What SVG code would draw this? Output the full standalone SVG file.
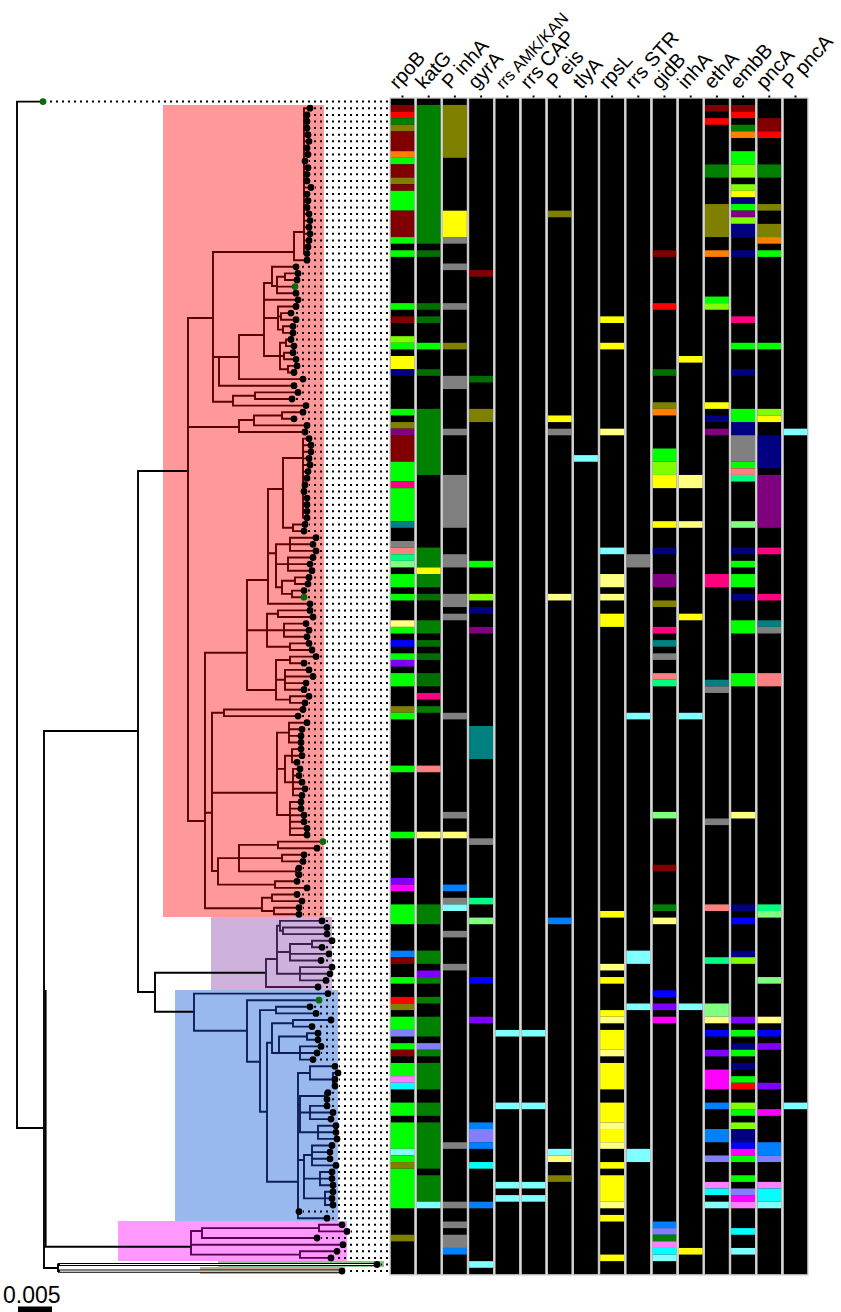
<svg xmlns="http://www.w3.org/2000/svg" width="841" height="1312" viewBox="0 0 841 1312">
<style>
.DR{fill:#800000}.R{fill:#ff0000}.G{fill:#008000}.DG{fill:#006e00}.OL{fill:#808000}.OR{fill:#ff8000}.L{fill:#00ff00}.CH{fill:#80ff00}.Y{fill:#ffff00}.LY{fill:#ffff80}.NV{fill:#000080}.B{fill:#0000ff}.DB{fill:#0080ff}.LSB{fill:#8080ff}.PU{fill:#800080}.VI{fill:#8000ff}.MG{fill:#ff00ff}.LM{fill:#ff80ff}.DP{fill:#ff0080}.TE{fill:#008080}.GR{fill:#808080}.SA{fill:#ff8080}.SG{fill:#00ff80}.LG{fill:#80ff80}.CY{fill:#00ffff}.LC{fill:#80ffff}
.br{fill:none;stroke-width:1.9;stroke-linecap:square}
.lbl{font-family:"Liberation Sans",Arial,sans-serif;font-size:20px;fill:#000}
</style>
<rect width="841" height="1312" fill="#fff"/>
<g id="clades">
<rect x="163" y="105" width="161" height="812" fill="#ff9999"/>
<rect x="211" y="917" width="121" height="73" fill="#cfb2db"/>
<rect x="175" y="990" width="163" height="231" fill="#99b8ee"/>
<rect x="118" y="1221" width="229" height="40" fill="#ff99ff"/>
<rect x="218" y="1261" width="166" height="6" fill="#8cc88c"/>
<rect x="200" y="1267" width="145" height="7" fill="#c8a890"/>
</g>
<g id="leader-dots">
<path fill="none" stroke="#000" stroke-width="2" stroke-dasharray="2 4" d="M388 101.6H47M388 108.2H314M388 114.9H311M388 121.5H311M388 128.1H311M388 134.7H312M388 141.3H313M388 147.9H311M388 154.5H312M388 161.1H309M388 167.7H312M388 174.3H311M388 180.9H311M388 187.5H315M388 194.1H311M388 200.7H312M388 207.4H311M388 214H313M388 220.6H314M388 227.2H313M388 233.8H314M388 240.4H313M388 247H312M388 253.6H311M388 260.2H311M388 266.8H300M388 273.4H302M388 280H301M388 286.6H299M388 293.2H300M388 299.8H302M388 306.5H300M388 313.1H295M388 319.7H300M388 326.3H297M388 332.9H297M388 339.5H295M388 346.1H298M388 352.7H297M388 359.3H300M388 365.9H301M388 372.5H298M388 379.1H307M388 385.7H298M388 392.4H302M388 399H296M388 405.6H310M388 412.2H307M388 418.8H298M388 425.4H311M388 432H309M388 438.6H313M388 445.2H315M388 451.8H315M388 458.4H313M388 465H314M388 471.6H312M388 478.2H311M388 484.9H309M388 491.5H308M388 498.1H311M388 504.7H311M388 511.3H311M388 517.9H311M388 524.5H309M388 531.1H308M388 537.7H320M388 544.3H317M388 550.9H320M388 557.5H317M388 564.1H314M388 570.7H316M388 577.4H313M388 584H312M388 590.6H308M388 597.2H308M388 603.8H314M388 610.4H314M388 617H317M388 623.6H310M388 630.2H313M388 636.8H311M388 643.4H313M388 650H316M388 656.6H320M388 663.2H308M388 669.9H313M388 676.5H317M388 683.1H310M388 689.7H308M388 696.3H313M388 702.9H309M388 709.5H307M388 716.1H302M388 722.7H311M388 729.3H306M388 735.9H305M388 742.5H305M388 749.1H305M388 755.7H306M388 762.3H301M388 768.9H304M388 775.6H303M388 782.2H306M388 788.8H309M388 795.4H306M388 802H305M388 808.6H305M388 815.2H308M388 821.8H308M388 828.4H311M388 835H311M388 841.6H327M388 848.2H321M388 854.8H308M388 861.4H307M388 868.1H303M388 874.7H303M388 881.3H301M388 887.9H311M388 894.5H301M388 901.1H306M388 907.7H303M388 914.3H303M388 920.9H326M388 927.5H331M388 934.1H331M388 940.7H336M388 947.3H326M388 953.9H333M388 960.5H325M388 967.1H336M388 973.8H334M388 980.4H330M388 987H322M388 993.6H332M388 1000.2H323M388 1006.8H314M388 1013.4H320M388 1020H335M388 1026.6H316M388 1033.2H322M388 1039.8H322M388 1046.4H325M388 1053H321M388 1059.6H317M388 1066.3H339M388 1072.9H342M388 1079.5H339M388 1086.1H339M388 1092.7H332M388 1099.3H331M388 1105.9H331M388 1112.5H337M388 1119.1H335M388 1125.7H340M388 1132.3H340M388 1138.9H341M388 1145.5H336M388 1152.1H334M388 1158.8H334M388 1165.4H340M388 1172H336M388 1178.6H336M388 1185.2H337M388 1191.8H337M388 1198.4H336M388 1205H337M388 1211.6H303M388 1218.2H331M388 1224.8H346M388 1231.4H351M388 1238H321M388 1244.7H347M388 1251.3H341M388 1257.9H335M388 1264.5H381M388 1271.1H346"/>
</g>
<g id="connectors">
<path class="br" stroke="#000" d="M43 101.6H17V1128H44M44 731V1268M44 731H138M138 471V992M138 471H188M138 992H155M155 972.7V1011.7M155 972.7H266M155 1011.7H194M44 1246.7H191M44 1268H58M58 1264.5V1271.1"/>
<path fill="none" stroke="#000" stroke-width="1.6" d="M45.8 990V1246.7"/>
<path fill="none" stroke="#000" stroke-width="3.2" d="M58 1264.5H377M58 1271.1H342"/>
<path fill="none" stroke="#fff" stroke-width="1.1" d="M60 1264.5H375M60 1271.1H340"/>
<path class="br" stroke="#5a0000" d="M188 318V821M188 318H213M188 427H239M188 821H205M213 252V401.7M213 252H294M213 357H219M213 401.7H233M294 232V260.2M294 232H304M294 260.2H307M304 108.2V253.6M304 108.2H310M304 114.9H307M304 121.5H307M304 128.1H307M304 134.7H308M304 141.3H309M304 147.9H307M304 154.5H308M304 161.1H305M304 167.7H308M304 174.3H307M304 180.9H307M304 187.5H311M304 194.1H307M304 200.7H308M304 207.4H307M304 214H309M304 220.6H310M304 227.2H309M304 233.8H310M304 240.4H309M304 247H308M304 253.6H307M219 357V385.7M219 357H239M219 385.7H294M239 335V379.1M239 335H264M239 379.1H303M264 283V356M264 283H272M264 299.8H298M264 318H278M264 356H280M272 266.8V286M272 266.8H296M272 286H277M277 276.7V293.2M277 276.7H285M277 286.6H295M277 293.2H296M285 273.4V280M285 273.4H298M285 280H297M278 306.5V329.6M278 306.5H296M278 316.4H281M278 329.6H283M281 313.1V319.7M281 313.1H291M281 319.7H296M283 326.3V332.9M283 326.3H293M283 332.9H293M280 342.8V369.2M280 342.8H286M280 356H284M280 369.2H288M286 339.5V346.1M286 339.5H291M286 346.1H294M284 352.7V359.3M284 352.7H293M284 359.3H296M288 365.9V372.5M288 365.9H297M288 372.5H294M233 395.7V405.6M233 395.7H255M233 405.6H306M255 392.4V399M255 392.4H298M255 399H292M239 420V432M239 420H254M239 432H305M254 415.5V425.4M254 415.5H282M254 425.4H307M282 412.2V418.8M282 412.2H303M282 418.8H294M205 652.7V908.3M205 652.7H247M205 812.7H212M205 908.3H262M247 580V690M247 580H268M247 630.2H267M247 690H276M268 489V603.8M268 489H283M268 553.3H276M268 603.8H310M283 458V527.8M283 458H303M283 527.8H293M303 438.6V517.9M303 438.6H309M303 445.2H311M303 451.8H311M303 458.4H309M303 465H310M303 471.6H308M303 478.2H307M303 484.9H305M303 491.5H304M303 498.1H307M303 504.7H307M303 511.3H307M303 517.9H307M293 524.5V531.1M293 524.5H305M293 531.1H304M276 544.3V587.3M276 544.3H290M276 564.1H288M276 587.3H282M290 537.7V550.9M290 537.7H316M290 544.3H313M290 550.9H316M288 557.5V570.7M288 557.5H313M288 564.1H310M288 570.7H312M282 580.7V593.9M282 580.7H295M282 593.9H292M295 577.4V584M295 577.4H309M295 584H308M292 590.6V597.2M292 590.6H304M292 597.2H304M267 613.7V646.7M267 613.7H278M267 630.2H284M267 646.7H290M278 610.4V617M278 610.4H310M278 617H313M284 623.6V636.8M284 623.6H306M284 630.2H309M284 636.8H307M290 643.4V650M290 643.4H309M290 650H312M276 660V699.6M276 660H290M276 679.8H285M276 699.6H290M290 656.6V663.2M290 656.6H316M290 663.2H304M285 669.9V689.7M285 669.9H309M285 676.5H313M285 683.1H306M285 689.7H304M290 696.3V702.9M290 696.3H309M290 702.9H305M212 712.8V871M212 712.8H224M212 792.7H277M212 871H218M224 709.5V716.1M224 709.5H303M224 716.1H298M277 732.6V815M277 732.6H289M277 768.9H285M277 815H290M289 722.7V742.5M289 722.7H307M289 729.3H302M289 735.9H301M289 742.5H301M285 755.7V782.2M285 755.7H292M285 782.2H293M292 749.1V762.3M292 749.1H301M292 755.7H302M292 762.3H297M293 768.9V795.4M293 768.9H300M293 775.6H299M293 782.2H302M293 788.8H305M293 795.4H302M290 802V835M290 802H301M290 808.6H301M290 815.2H304M290 821.8H304M290 828.4H307M290 835H307M218 858.1V884.6M218 858.1H239M218 884.6H275M239 844.9V871.4M239 844.9H278M239 858.1H282M239 871.4H296M278 841.6V848.2M278 841.6H323M278 848.2H317M282 854.8V861.4M282 854.8H304M282 861.4H303M296 868.1V874.7M296 868.1H299M296 874.7H299M275 881.3V887.9M275 881.3H297M275 887.9H307M262 897.8V911M262 897.8H272M262 911H274M272 894.5V901.1M272 894.5H297M272 901.1H302M274 907.7V914.3M274 907.7H299M274 914.3H299"/>
<path class="br" stroke="#3d1d4d" d="M266 959V987M266 959H277M266 987H318M277 925.7V973.8M277 925.7H280M277 952H290M277 973.8H300M280 920.9V930.8M280 920.9H322M280 930.8H283M283 927.5V934.1M283 927.5H327M283 934.1H327M290 944V960.5M290 944H312M290 953.9H329M290 960.5H321M312 940.7V947.3M312 940.7H332M312 947.3H322M300 967.1V980.4M300 967.1H332M300 973.8H330M300 980.4H326"/>
<path class="br" stroke="#0d1f5a" d="M194 993.6V1030.7M194 993.6H328M194 1030.7H247M247 1000.2V1061.7M247 1000.2H319M247 1061.7H260M260 1010.1V1111.7M260 1010.1H276M260 1111.7H267M276 1006.8V1013.4M276 1006.8H310M276 1013.4H316M267 1042.7V1181.7M267 1042.7H272M267 1181.7H298M272 1023.3V1053M272 1023.3H293M272 1053H279M293 1020V1026.6M293 1020H331M293 1026.6H312M279 1036.5V1053M279 1036.5H307M279 1053H300M307 1033.2V1039.8M307 1033.2H318M307 1039.8H318M300 1046.4V1059.6M300 1046.4H321M300 1053H317M300 1059.6H313M298 1073V1218.2M298 1073H310M298 1105H300M298 1160H304M298 1218.2H327M310 1066.3V1079.5M310 1066.3H335M310 1079.5H333M333 1072.9V1086.1M333 1072.9H338M333 1079.5H335M333 1086.1H335M300 1096V1132.3M300 1096H325M300 1112.5H310M300 1132.3H318M325 1092.7V1099.3M325 1092.7H328M325 1099.3H327M310 1105.9V1119.1M310 1105.9H327M310 1112.5H333M310 1119.1H331M318 1125.7V1138.9M318 1125.7H336M318 1132.3H336M318 1138.9H337M304 1155V1198.4M304 1155H312M304 1178.6H320M304 1198.4H325M312 1145.5V1165.4M312 1145.5H332M312 1152.1H330M312 1158.8H330M312 1165.4H336M320 1172V1185.2M320 1172H332M320 1178.6H332M320 1185.2H333M325 1191.8V1205M325 1191.8H333M325 1198.4H332M325 1205H333"/>
<path class="br" stroke="#560050" d="M191 1231V1254.6M191 1231H202M191 1244.7H343M191 1254.6H300M202 1228.1V1238M202 1228.1H319M202 1238H317M319 1224.8V1231.4M319 1224.8H342M319 1231.4H347M300 1251.3V1257.9M300 1251.3H337M300 1257.9H331"/>
</g>
<g id="leaves">
<path fill="none" stroke="#000" stroke-width="6.8" stroke-linecap="round" d="M310 108.2h0M307 114.9h0M307 121.5h0M307 128.1h0M308 134.7h0M309 141.3h0M307 147.9h0M308 154.5h0M305 161.1h0M308 167.7h0M307 174.3h0M307 180.9h0M311 187.5h0M307 194.1h0M308 200.7h0M307 207.4h0M309 214h0M310 220.6h0M309 227.2h0M310 233.8h0M309 240.4h0M308 247h0M307 253.6h0M307 260.2h0M296 266.8h0M298 273.4h0M297 280h0M296 293.2h0M298 299.8h0M296 306.5h0M291 313.1h0M296 319.7h0M293 326.3h0M293 332.9h0M291 339.5h0M294 346.1h0M293 352.7h0M296 359.3h0M297 365.9h0M294 372.5h0M303 379.1h0M294 385.7h0M298 392.4h0M292 399h0M306 405.6h0M303 412.2h0M294 418.8h0M307 425.4h0M305 432h0M309 438.6h0M311 445.2h0M311 451.8h0M309 458.4h0M310 465h0M308 471.6h0M307 478.2h0M305 484.9h0M304 491.5h0M307 498.1h0M307 504.7h0M307 511.3h0M307 517.9h0M305 524.5h0M304 531.1h0M316 537.7h0M313 544.3h0M316 550.9h0M313 557.5h0M310 564.1h0M312 570.7h0M309 577.4h0M308 584h0M304 590.6h0M310 603.8h0M310 610.4h0M313 617h0M306 623.6h0M309 630.2h0M307 636.8h0M309 643.4h0M312 650h0M316 656.6h0M304 663.2h0M309 669.9h0M313 676.5h0M306 683.1h0M304 689.7h0M309 696.3h0M305 702.9h0M303 709.5h0M298 716.1h0M307 722.7h0M302 729.3h0M301 735.9h0M301 742.5h0M301 749.1h0M302 755.7h0M297 762.3h0M300 768.9h0M299 775.6h0M302 782.2h0M305 788.8h0M302 795.4h0M301 802h0M301 808.6h0M304 815.2h0M304 821.8h0M307 828.4h0M307 835h0M317 848.2h0M304 854.8h0M303 861.4h0M299 868.1h0M299 874.7h0M297 881.3h0M307 887.9h0M297 894.5h0M302 901.1h0M299 907.7h0M299 914.3h0M322 920.9h0M327 927.5h0M327 934.1h0M332 940.7h0M322 947.3h0M329 953.9h0M321 960.5h0M332 967.1h0M330 973.8h0M326 980.4h0M318 987h0M328 993.6h0M310 1006.8h0M316 1013.4h0M331 1020h0M312 1026.6h0M318 1033.2h0M318 1039.8h0M321 1046.4h0M317 1053h0M313 1059.6h0M335 1066.3h0M338 1072.9h0M335 1079.5h0M335 1086.1h0M328 1092.7h0M327 1099.3h0M327 1105.9h0M333 1112.5h0M331 1119.1h0M336 1125.7h0M336 1132.3h0M337 1138.9h0M332 1145.5h0M330 1152.1h0M330 1158.8h0M336 1165.4h0M332 1172h0M332 1178.6h0M333 1185.2h0M333 1191.8h0M332 1198.4h0M333 1205h0M299 1211.6h0M327 1218.2h0M342 1224.8h0M347 1231.4h0M317 1238h0M343 1244.7h0M337 1251.3h0M331 1257.9h0M377 1264.5h0M342 1271.1h0"/>
<path fill="none" stroke="#0b6b0b" stroke-width="6.8" stroke-linecap="round" d="M43 101.6h0M295 286.6h0M304 597.2h0M323 841.6h0M319 1000.2h0"/>
</g>
<g id="heatmap">
<g id="col-rpoB" transform="translate(390.5 98.33) scale(1 6.607)"><rect width="24" height="178"/><rect class="DR" y="1" height="1" width="24"/><rect class="R" y="2" height="1" width="24"/><rect class="G" y="3" height="1" width="24"/><rect class="OL" y="4" height="1" width="24"/><rect class="DR" y="5" height="3" width="24"/><rect class="OR" y="8" height="1" width="24"/><rect class="L" y="9" height="1" width="24"/><rect class="DR" y="10" height="2" width="24"/><rect class="OL" y="12" height="1" width="24"/><rect class="DR" y="13" height="1" width="24"/><rect class="L" y="14" height="3" width="24"/><rect class="DR" y="17" height="4" width="24"/><rect class="L" y="21" height="1" width="24"/><rect class="L" y="23" height="1" width="24"/><rect class="L" y="31" height="1" width="24"/><rect class="DR" y="33" height="1" width="24"/><rect class="CH" y="36" height="1" width="24"/><rect class="L" y="37" height="1" width="24"/><rect class="Y" y="39" height="2" width="24"/><rect class="NV" y="41" height="1" width="24"/><rect class="L" y="47" height="1" width="24"/><rect class="OL" y="49" height="1" width="24"/><rect class="PU" y="50" height="1" width="24"/><rect class="DR" y="51" height="4" width="24"/><rect class="L" y="55" height="3" width="24"/><rect class="DP" y="58" height="1" width="24"/><rect class="L" y="59" height="5" width="24"/><rect class="TE" y="64" height="1" width="24"/><rect class="GR" y="67" height="1" width="24"/><rect class="SA" y="68" height="1" width="24"/><rect class="SG" y="69" height="1" width="24"/><rect class="LG" y="70" height="1" width="24"/><rect class="L" y="72" height="2" width="24"/><rect class="L" y="75" height="1" width="24"/><rect class="LY" y="79" height="1" width="24"/><rect class="L" y="80" height="1" width="24"/><rect class="B" y="82" height="1" width="24"/><rect class="L" y="84" height="1" width="24"/><rect class="VI" y="85" height="1" width="24"/><rect class="L" y="87" height="2" width="24"/><rect class="OL" y="92" height="1" width="24"/><rect class="L" y="93" height="1" width="24"/><rect class="L" y="101" height="1" width="24"/><rect class="L" y="111" height="1" width="24"/><rect class="VI" y="118" height="1" width="24"/><rect class="MG" y="119" height="1" width="24"/><rect class="L" y="122" height="3" width="24"/><rect class="DB" y="129" height="1" width="24"/><rect class="DR" y="130" height="1" width="24"/><rect class="L" y="133" height="1" width="24"/><rect class="R" y="136" height="1" width="24"/><rect class="OL" y="137" height="1" width="24"/><rect class="L" y="139" height="2" width="24"/><rect class="LSB" y="141" height="1" width="24"/><rect class="L" y="143" height="1" width="24"/><rect class="DR" y="144" height="1" width="24"/><rect class="L" y="146" height="2" width="24"/><rect class="LM" y="148" height="1" width="24"/><rect class="CY" y="149" height="1" width="24"/><rect class="L" y="152" height="2" width="24"/><rect class="L" y="155" height="4" width="24"/><rect class="LC" y="159" height="1" width="24"/><rect class="L" y="160" height="1" width="24"/><rect class="OL" y="161" height="1" width="24"/><rect class="L" y="162" height="6" width="24"/><rect class="OL" y="172" height="1" width="24"/></g>
<g id="col-katG" transform="translate(416.7 98.33) scale(1 6.607)"><rect width="24" height="178"/><rect class="G" y="1" height="21" width="24"/><rect class="DG" y="23" height="1" width="24"/><rect class="DG" y="31" height="1" width="24"/><rect class="DG" y="33" height="1" width="24"/><rect class="L" y="37" height="1" width="24"/><rect class="DG" y="41" height="1" width="24"/><rect class="G" y="47" height="10" width="24"/><rect class="G" y="68" height="3" width="24"/><rect class="Y" y="71" height="1" width="24"/><rect class="G" y="72" height="2" width="24"/><rect class="DG" y="75" height="1" width="24"/><rect class="G" y="79" height="2" width="24"/><rect class="DG" y="82" height="1" width="24"/><rect class="DG" y="84" height="1" width="24"/><rect class="DG" y="87" height="2" width="24"/><rect class="DP" y="90" height="1" width="24"/><rect class="G" y="92" height="1" width="24"/><rect class="SA" y="101" height="1" width="24"/><rect class="LY" y="111" height="1" width="24"/><rect class="G" y="122" height="3" width="24"/><rect class="G" y="129" height="2" width="24"/><rect class="VI" y="132" height="1" width="24"/><rect class="G" y="133" height="1" width="24"/><rect class="G" y="136" height="1" width="24"/><rect class="G" y="139" height="3" width="24"/><rect class="LSB" y="143" height="1" width="24"/><rect class="G" y="144" height="1" width="24"/><rect class="G" y="146" height="4" width="24"/><rect class="G" y="152" height="2" width="24"/><rect class="G" y="155" height="7" width="24"/><rect class="G" y="163" height="4" width="24"/><rect class="LC" y="167" height="1" width="24"/></g>
<g id="col-PinhA" transform="translate(442.9 98.33) scale(1 6.607)"><rect width="24" height="178"/><rect class="OL" y="1" height="8" width="24"/><rect class="Y" y="17" height="4" width="24"/><rect class="GR" y="21" height="1" width="24"/><rect class="GR" y="25" height="1" width="24"/><rect class="GR" y="31" height="1" width="24"/><rect class="OL" y="37" height="1" width="24"/><rect class="GR" y="42" height="2" width="24"/><rect class="GR" y="50" height="1" width="24"/><rect class="GR" y="57" height="8" width="24"/><rect class="GR" y="69" height="2" width="24"/><rect class="GR" y="75" height="2" width="24"/><rect class="GR" y="78" height="1" width="24"/><rect class="GR" y="93" height="1" width="24"/><rect class="GR" y="108" height="1" width="24"/><rect class="LY" y="111" height="1" width="24"/><rect class="DB" y="119" height="1" width="24"/><rect class="GR" y="121" height="1" width="24"/><rect class="LC" y="122" height="1" width="24"/><rect class="GR" y="126" height="1" width="24"/><rect class="GR" y="131" height="1" width="24"/><rect class="GR" y="158" height="1" width="24"/><rect class="GR" y="167" height="1" width="24"/><rect class="GR" y="170" height="1" width="24"/><rect class="GR" y="172" height="2" width="24"/><rect class="DB" y="174" height="1" width="24"/></g>
<g id="col-gyrA" transform="translate(469.1 98.33) scale(1 6.607)"><rect width="24" height="178"/><rect class="DR" y="26" height="1" width="24"/><rect class="DG" y="42" height="1" width="24"/><rect class="OL" y="47" height="2" width="24"/><rect class="L" y="70" height="1" width="24"/><rect class="CH" y="75" height="1" width="24"/><rect class="NV" y="77" height="1" width="24"/><rect class="PU" y="80" height="1" width="24"/><rect class="TE" y="95" height="5" width="24"/><rect class="GR" y="112" height="1" width="24"/><rect class="SG" y="121" height="1" width="24"/><rect class="LG" y="124" height="1" width="24"/><rect class="B" y="133" height="1" width="24"/><rect class="VI" y="139" height="1" width="24"/><rect class="DB" y="155" height="1" width="24"/><rect class="LSB" y="156" height="2" width="24"/><rect class="DB" y="158" height="1" width="24"/><rect class="CY" y="161" height="1" width="24"/><rect class="DB" y="167" height="1" width="24"/><rect class="LC" y="176" height="1" width="24"/></g>
<g id="col-rrsAMK" transform="translate(495.3 98.33) scale(1 6.607)"><rect width="24" height="178"/><rect class="LC" y="141" height="1" width="24"/><rect class="LC" y="152" height="1" width="24"/><rect class="LC" y="164" height="1" width="24"/><rect class="LC" y="166" height="1" width="24"/></g>
<g id="col-rrsCAP" transform="translate(521.5 98.33) scale(1 6.607)"><rect width="24" height="178"/><rect class="LC" y="141" height="1" width="24"/><rect class="LC" y="152" height="1" width="24"/><rect class="LC" y="164" height="1" width="24"/><rect class="LC" y="166" height="1" width="24"/></g>
<g id="col-Peis" transform="translate(547.7 98.33) scale(1 6.607)"><rect width="24" height="178"/><rect class="OL" y="17" height="1" width="24"/><rect class="Y" y="48" height="1" width="24"/><rect class="GR" y="50" height="1" width="24"/><rect class="LY" y="75" height="1" width="24"/><rect class="DB" y="124" height="1" width="24"/><rect class="LC" y="159" height="1" width="24"/><rect class="LY" y="160" height="1" width="24"/><rect class="OL" y="163" height="1" width="24"/></g>
<g id="col-tlyA" transform="translate(573.9 98.33) scale(1 6.607)"><rect width="24" height="178"/><rect class="LC" y="54" height="1" width="24"/></g>
<g id="col-rpsL" transform="translate(600.1 98.33) scale(1 6.607)"><rect width="24" height="178"/><rect class="Y" y="33" height="1" width="24"/><rect class="Y" y="37" height="1" width="24"/><rect class="LY" y="50" height="1" width="24"/><rect class="LC" y="68" height="1" width="24"/><rect class="LY" y="72" height="2" width="24"/><rect class="LY" y="75" height="1" width="24"/><rect class="Y" y="78" height="2" width="24"/><rect class="Y" y="123" height="1" width="24"/><rect class="LY" y="131" height="1" width="24"/><rect class="Y" y="133" height="1" width="24"/><rect class="Y" y="138" height="1" width="24"/><rect class="LY" y="139" height="1" width="24"/><rect class="Y" y="141" height="3" width="24"/><rect class="LY" y="144" height="1" width="24"/><rect class="Y" y="146" height="4" width="24"/><rect class="Y" y="152" height="3" width="24"/><rect class="LY" y="155" height="1" width="24"/><rect class="Y" y="156" height="2" width="24"/><rect class="LY" y="158" height="1" width="24"/><rect class="Y" y="161" height="1" width="24"/><rect class="Y" y="163" height="4" width="24"/><rect class="LY" y="167" height="1" width="24"/><rect class="Y" y="169" height="1" width="24"/><rect class="Y" y="175" height="1" width="24"/></g>
<g id="col-rrsSTR" transform="translate(626.3 98.33) scale(1 6.607)"><rect width="24" height="178"/><rect class="GR" y="69" height="2" width="24"/><rect class="LC" y="93" height="1" width="24"/><rect class="LC" y="129" height="2" width="24"/><rect class="LC" y="137" height="1" width="24"/><rect class="LC" y="159" height="2" width="24"/></g>
<g id="col-gidB" transform="translate(652.5 98.33) scale(1 6.607)"><rect width="24" height="178"/><rect class="DR" y="23" height="1" width="24"/><rect class="R" y="31" height="1" width="24"/><rect class="DG" y="41" height="1" width="24"/><rect class="OL" y="46" height="1" width="24"/><rect class="OR" y="47" height="1" width="24"/><rect class="L" y="53" height="2" width="24"/><rect class="CH" y="55" height="2" width="24"/><rect class="Y" y="57" height="2" width="24"/><rect class="Y" y="64" height="1" width="24"/><rect class="NV" y="68" height="1" width="24"/><rect class="PU" y="72" height="2" width="24"/><rect class="OL" y="76" height="1" width="24"/><rect class="DP" y="80" height="1" width="24"/><rect class="TE" y="82" height="1" width="24"/><rect class="GR" y="84" height="1" width="24"/><rect class="SA" y="87" height="1" width="24"/><rect class="SG" y="88" height="1" width="24"/><rect class="LG" y="108" height="1" width="24"/><rect class="DR" y="116" height="1" width="24"/><rect class="G" y="122" height="1" width="24"/><rect class="LY" y="124" height="1" width="24"/><rect class="B" y="135" height="1" width="24"/><rect class="VI" y="137" height="1" width="24"/><rect class="MG" y="139" height="1" width="24"/><rect class="DB" y="170" height="1" width="24"/><rect class="LSB" y="171" height="1" width="24"/><rect class="G" y="172" height="1" width="24"/><rect class="LM" y="173" height="1" width="24"/><rect class="CY" y="174" height="1" width="24"/><rect class="LC" y="175" height="1" width="24"/></g>
<g id="col-inhA" transform="translate(678.7 98.33) scale(1 6.607)"><rect width="24" height="178"/><rect class="Y" y="39" height="1" width="24"/><rect class="LY" y="57" height="2" width="24"/><rect class="LY" y="64" height="1" width="24"/><rect class="Y" y="78" height="1" width="24"/><rect class="LC" y="93" height="1" width="24"/><rect class="LC" y="137" height="1" width="24"/><rect class="Y" y="174" height="1" width="24"/></g>
<g id="col-ethA" transform="translate(704.9 98.33) scale(1 6.607)"><rect width="24" height="178"/><rect class="DR" y="1" height="1" width="24"/><rect class="R" y="3" height="1" width="24"/><rect class="G" y="10" height="2" width="24"/><rect class="OL" y="16" height="5" width="24"/><rect class="OR" y="23" height="1" width="24"/><rect class="L" y="30" height="1" width="24"/><rect class="CH" y="31" height="1" width="24"/><rect class="Y" y="46" height="1" width="24"/><rect class="NV" y="48" height="1" width="24"/><rect class="PU" y="50" height="1" width="24"/><rect class="DP" y="72" height="2" width="24"/><rect class="TE" y="88" height="1" width="24"/><rect class="GR" y="89" height="1" width="24"/><rect class="GR" y="109" height="1" width="24"/><rect class="SA" y="122" height="1" width="24"/><rect class="SG" y="130" height="1" width="24"/><rect class="LG" y="137" height="2" width="24"/><rect class="LY" y="139" height="1" width="24"/><rect class="B" y="141" height="1" width="24"/><rect class="VI" y="144" height="1" width="24"/><rect class="MG" y="147" height="3" width="24"/><rect class="DB" y="152" height="1" width="24"/><rect class="DB" y="156" height="2" width="24"/><rect class="LSB" y="160" height="1" width="24"/><rect class="LM" y="164" height="1" width="24"/><rect class="CY" y="165" height="1" width="24"/><rect class="LC" y="167" height="1" width="24"/></g>
<g id="col-embB" transform="translate(731.1 98.33) scale(1 6.607)"><rect width="24" height="178"/><rect class="DR" y="1" height="1" width="24"/><rect class="R" y="2" height="1" width="24"/><rect class="G" y="4" height="1" width="24"/><rect class="OR" y="5" height="1" width="24"/><rect class="L" y="8" height="2" width="24"/><rect class="CH" y="10" height="2" width="24"/><rect class="CH" y="13" height="1" width="24"/><rect class="Y" y="14" height="1" width="24"/><rect class="NV" y="15" height="1" width="24"/><rect class="L" y="16" height="1" width="24"/><rect class="PU" y="17" height="1" width="24"/><rect class="CH" y="18" height="1" width="24"/><rect class="NV" y="19" height="2" width="24"/><rect class="NV" y="23" height="1" width="24"/><rect class="DP" y="33" height="1" width="24"/><rect class="L" y="37" height="1" width="24"/><rect class="NV" y="41" height="1" width="24"/><rect class="L" y="47" height="2" width="24"/><rect class="NV" y="49" height="2" width="24"/><rect class="GR" y="51" height="4" width="24"/><rect class="L" y="55" height="1" width="24"/><rect class="SA" y="56" height="1" width="24"/><rect class="SG" y="57" height="1" width="24"/><rect class="LG" y="64" height="1" width="24"/><rect class="NV" y="68" height="1" width="24"/><rect class="L" y="70" height="1" width="24"/><rect class="L" y="72" height="2" width="24"/><rect class="NV" y="75" height="1" width="24"/><rect class="L" y="79" height="2" width="24"/><rect class="L" y="87" height="2" width="24"/><rect class="LY" y="108" height="1" width="24"/><rect class="NV" y="122" height="1" width="24"/><rect class="B" y="124" height="1" width="24"/><rect class="NV" y="129" height="1" width="24"/><rect class="CH" y="130" height="1" width="24"/><rect class="VI" y="139" height="1" width="24"/><rect class="L" y="141" height="1" width="24"/><rect class="NV" y="143" height="1" width="24"/><rect class="L" y="144" height="1" width="24"/><rect class="NV" y="146" height="1" width="24"/><rect class="L" y="148" height="1" width="24"/><rect class="R" y="149" height="1" width="24"/><rect class="CH" y="152" height="1" width="24"/><rect class="L" y="153" height="1" width="24"/><rect class="CH" y="155" height="1" width="24"/><rect class="NV" y="156" height="2" width="24"/><rect class="B" y="158" height="1" width="24"/><rect class="MG" y="159" height="1" width="24"/><rect class="L" y="160" height="1" width="24"/><rect class="L" y="163" height="1" width="24"/><rect class="LSB" y="165" height="1" width="24"/><rect class="MG" y="166" height="1" width="24"/><rect class="LM" y="167" height="1" width="24"/><rect class="CY" y="171" height="1" width="24"/><rect class="LC" y="174" height="1" width="24"/></g>
<g id="col-pncA" transform="translate(757.3 98.33) scale(1 6.607)"><rect width="24" height="178"/><rect class="DR" y="3" height="2" width="24"/><rect class="R" y="5" height="1" width="24"/><rect class="G" y="10" height="2" width="24"/><rect class="OL" y="16" height="1" width="24"/><rect class="OL" y="19" height="2" width="24"/><rect class="OR" y="21" height="1" width="24"/><rect class="L" y="23" height="1" width="24"/><rect class="L" y="37" height="1" width="24"/><rect class="CH" y="47" height="1" width="24"/><rect class="Y" y="48" height="1" width="24"/><rect class="NV" y="51" height="5" width="24"/><rect class="PU" y="57" height="8" width="24"/><rect class="DP" y="68" height="1" width="24"/><rect class="DP" y="75" height="1" width="24"/><rect class="TE" y="79" height="1" width="24"/><rect class="GR" y="80" height="1" width="24"/><rect class="SA" y="87" height="2" width="24"/><rect class="SG" y="122" height="1" width="24"/><rect class="LG" y="123" height="1" width="24"/><rect class="LG" y="133" height="1" width="24"/><rect class="LY" y="139" height="1" width="24"/><rect class="B" y="141" height="1" width="24"/><rect class="VI" y="143" height="1" width="24"/><rect class="VI" y="149" height="1" width="24"/><rect class="MG" y="153" height="1" width="24"/><rect class="DB" y="158" height="2" width="24"/><rect class="LSB" y="160" height="1" width="24"/><rect class="LM" y="164" height="1" width="24"/><rect class="CY" y="165" height="2" width="24"/><rect class="LC" y="167" height="1" width="24"/></g>
<g id="col-PpncA" transform="translate(783.5 98.33) scale(1 6.607)"><rect width="24" height="178"/><rect class="LC" y="50" height="1" width="24"/><rect class="LC" y="152" height="1" width="24"/></g>
<g id="col-borders" fill="none" stroke="#c4c4c4" stroke-width="1"><rect x="390" y="98" width="25" height="1177"/><rect x="416.2" y="98" width="25" height="1177"/><rect x="442.4" y="98" width="25" height="1177"/><rect x="468.6" y="98" width="25" height="1177"/><rect x="494.8" y="98" width="25" height="1177"/><rect x="521" y="98" width="25" height="1177"/><rect x="547.2" y="98" width="25" height="1177"/><rect x="573.4" y="98" width="25" height="1177"/><rect x="599.6" y="98" width="25" height="1177"/><rect x="625.8" y="98" width="25" height="1177"/><rect x="652" y="98" width="25" height="1177"/><rect x="678.2" y="98" width="25" height="1177"/><rect x="704.4" y="98" width="25" height="1177"/><rect x="730.6" y="98" width="25" height="1177"/><rect x="756.8" y="98" width="25" height="1177"/><rect x="783" y="98" width="25" height="1177"/></g>
<g id="ticks" fill="#000"><rect x="401.5" y="95.5" width="2" height="2"/><rect x="427.7" y="95.5" width="2" height="2"/><rect x="453.9" y="95.5" width="2" height="2"/><rect x="480.1" y="95.5" width="2" height="2"/><rect x="506.3" y="95.5" width="2" height="2"/><rect x="532.5" y="95.5" width="2" height="2"/><rect x="558.7" y="95.5" width="2" height="2"/><rect x="584.9" y="95.5" width="2" height="2"/><rect x="611.1" y="95.5" width="2" height="2"/><rect x="637.3" y="95.5" width="2" height="2"/><rect x="663.5" y="95.5" width="2" height="2"/><rect x="689.7" y="95.5" width="2" height="2"/><rect x="715.9" y="95.5" width="2" height="2"/><rect x="742.1" y="95.5" width="2" height="2"/><rect x="768.3" y="95.5" width="2" height="2"/><rect x="794.5" y="95.5" width="2" height="2"/></g>
</g>
<g id="labels">
<text class="lbl" transform="translate(398 90) rotate(-48)">rpoB</text>
<text class="lbl" transform="translate(424.2 90) rotate(-48)">katG</text>
<text class="lbl" transform="translate(450.4 90) rotate(-48)">P inhA</text>
<text class="lbl" transform="translate(476.6 90) rotate(-48)">gyrA</text>
<text class="lbl" transform="translate(503 90) rotate(-47)" style="font-size:16.5px">rrs AMK/KAN</text>
<text class="lbl" transform="translate(529 90) rotate(-48)">rrs CAP</text>
<text class="lbl" transform="translate(555.2 90) rotate(-48)">P eis</text>
<text class="lbl" transform="translate(581.4 90) rotate(-48)">tlyA</text>
<text class="lbl" transform="translate(607.6 90) rotate(-48)">rpsL</text>
<text class="lbl" transform="translate(633.8 90) rotate(-48)">rrs STR</text>
<text class="lbl" transform="translate(660 90) rotate(-48)">gidB</text>
<text class="lbl" transform="translate(686.2 90) rotate(-48)">inhA</text>
<text class="lbl" transform="translate(712.4 90) rotate(-48)">ethA</text>
<text class="lbl" transform="translate(738.6 90) rotate(-48)">embB</text>
<text class="lbl" transform="translate(764.8 90) rotate(-48)">pncA</text>
<text class="lbl" transform="translate(791 90) rotate(-48)">P pncA</text>
</g>
<g id="scale">
<text x="3" y="1303" style="font-family:'Liberation Sans',Arial,sans-serif;font-size:23px">0.005</text>
<rect x="18" y="1306.5" width="34" height="5.5" fill="#000"/>
</g>
</svg>
